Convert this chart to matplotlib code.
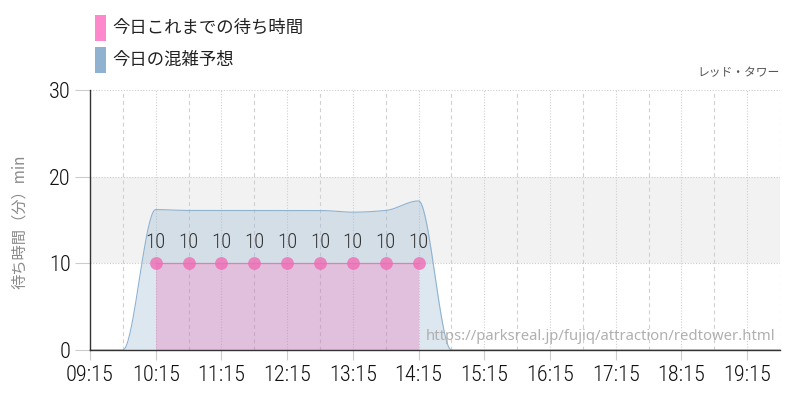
import numpy as np
import matplotlib
matplotlib.use("Agg")
import matplotlib.pyplot as plt
from matplotlib.patches import Rectangle

# --------------------------------
# Data
# --------------------------------
forecast_times = ["09:15", "09:45", "10:15", "10:45", "11:15", "11:45", "12:15",
                  "12:45", "13:15", "13:45", "14:15", "14:45", "15:15", "15:45",
                  "16:15", "16:45", "17:15", "17:45", "18:15", "18:45", "19:15",
                  "19:45"]
forecast_wait = [0, 0, 16.2, 16.1, 16.1, 16.1, 16.1, 16.1, 15.9, 16.1, 17.2, 0,
                 0, 0, 0, 0, 0, 0, 0, 0, 0, 0]

actual_times = ["10:15", "10:45", "11:15", "11:45", "12:15", "12:45", "13:15",
                "13:45", "14:15"]
actual_wait = [10, 10, 10, 10, 10, 10, 10, 10, 10]

tick_labels = ["09:15", "10:15", "11:15", "12:15", "13:15", "14:15", "15:15",
               "16:15", "17:15", "18:15", "19:15"]
y_ticks = [0, 10, 20, 30]

legend_labels = ["今日これまでの待ち時間", "今日の混雑予想"]
title = "レッド・タワー"
ylabel = "待ち時間（分）min"
source = "https://parksreal.jp/fujiq/attraction/redtower.html"

# --------------------------------
# Helpers
# --------------------------------
def to_min(t):
    h, m = t.split(":")
    return int(h) * 60 + int(m)


def pchip(x, y, xs):
    # monotone cubic smoothing for the drawn curve
    x = np.asarray(x, float)
    y = np.asarray(y, float)
    h = np.diff(x)
    d = np.diff(y) / h
    m = np.zeros_like(y)
    m[0], m[-1] = d[0], d[-1]
    for k in range(1, len(x) - 1):
        if d[k - 1] * d[k] > 0:
            w1 = 2 * h[k] + h[k - 1]
            w2 = h[k] + 2 * h[k - 1]
            m[k] = (w1 + w2) / (w1 / d[k - 1] + w2 / d[k])
    idx = np.clip(np.searchsorted(x, xs) - 1, 0, len(x) - 2)
    t = (xs - x[idx]) / h[idx]
    h00 = 2 * t**3 - 3 * t**2 + 1
    h10 = t**3 - 2 * t**2 + t
    h01 = -2 * t**3 + 3 * t**2
    h11 = t**3 - t**2
    return (h00 * y[idx] + h10 * h[idx] * m[idx] + h01 * y[idx + 1]
            + h11 * h[idx] * m[idx + 1])


num_font = ["Liberation Sans Narrow", "Roboto Condensed", "DejaVu Sans"]
jp_font = ["Noto Sans CJK JP", "DejaVu Sans"]

fx = np.array([to_min(t) for t in forecast_times])
ax_x = np.array([to_min(t) for t in actual_times])
xs = np.linspace(fx[0], fx[-1], 800)
ys = pchip(fx, forecast_wait, xs)

# --------------------------------
# Plot
# --------------------------------
fig = plt.figure(figsize=(8, 4), dpi=100)
ax = fig.add_axes([90 / 800, 50 / 400, 690 / 800, 260 / 400])

ax.axhspan(10, 20, color="#f2f2f2", lw=0, zorder=0)
for v in fx[1:]:
    labeled = forecast_times[list(fx).index(v)] in tick_labels
    ax.axvline(v, color="#d0d0d0", lw=0.8,
               ls=(0, (1, 1.5)) if labeled else (0, (3.5, 3)), zorder=0.5)
for v in y_ticks[1:]:
    ax.axhline(v, color="#cccccc", lw=0.8, ls=(0, (1, 1.5)), zorder=0.5)

blue = "#8eb2d0"
ax.fill_between(xs, ys, 0, color=blue, alpha=0.3, lw=0, zorder=1)
ax.plot(xs, ys, color=blue, lw=0.8, zorder=2, clip_on=False)

ax.fill_between(ax_x, actual_wait, 0, color="#ea66ae", alpha=0.3, lw=0, zorder=2)
ax.plot(ax_x, actual_wait, color="#ee77bb", lw=0.9, zorder=3)
ax.scatter(ax_x, actual_wait, s=85, color="#f06cb4", alpha=0.8, lw=0, zorder=4)
for xv, yv in zip(ax_x, actual_wait):
    ax.annotate(str(yv), (xv, yv), xytext=(0, 8), textcoords="offset points",
                ha="center", va="bottom", fontsize=15, color="#333333",
                family=num_font, fontstretch="condensed", fontweight="light",
                zorder=5)

ax.set_xlim(fx[0], fx[-1])
ax.set_ylim(0, 30)
ax.set_xticks([to_min(t) for t in tick_labels])
ax.set_xticklabels(tick_labels)
ax.set_yticks(y_ticks)
for s in ["top", "right"]:
    ax.spines[s].set_visible(False)
for s in ["left", "bottom"]:
    ax.spines[s].set_color("#333333")
    ax.spines[s].set_linewidth(1.0)
    ax.spines[s].set_zorder(6)
ax.tick_params(axis="y", length=11, color="#cccccc", pad=3, labelcolor="#111111")
ax.tick_params(axis="x", length=7, color="#cccccc", pad=4, labelcolor="#111111")
for lab in ax.get_xticklabels() + ax.get_yticklabels():
    lab.set_family(num_font)
    lab.set_fontstretch("condensed")
    lab.set_fontweight("light")
    lab.set_fontsize(16)

fig.text(20 / 800, 1 - 222 / 400, ylabel, rotation=90, ha="center", va="center",
         fontsize=11, color="#8a8a8a", family=jp_font)
fig.text(780 / 800, 1 - 73 / 400, title, ha="right", va="center",
         fontsize=8.5, color="#555555", family=jp_font)
fig.text(775 / 800, 1 - 337 / 400, source, ha="right", va="center",
         fontsize=10.7, color="#b0b0b0", family=["Noto Sans", "DejaVu Sans"])

# legend
for i, (lab, col) in enumerate(zip(legend_labels, ["#ff88cc", blue])):
    top = 15 + 32 * i
    fig.patches.append(Rectangle((95 / 800, 1 - (top + 26) / 400), 11 / 800,
                                 26 / 400, transform=fig.transFigure,
                                 color=col, lw=0))
    fig.text(112 / 800, 1 - (top + 13) / 400, lab, ha="left", va="center",
             fontsize=12.5, color="#222222", family=jp_font)

fig.savefig("out.png", dpi=100)
